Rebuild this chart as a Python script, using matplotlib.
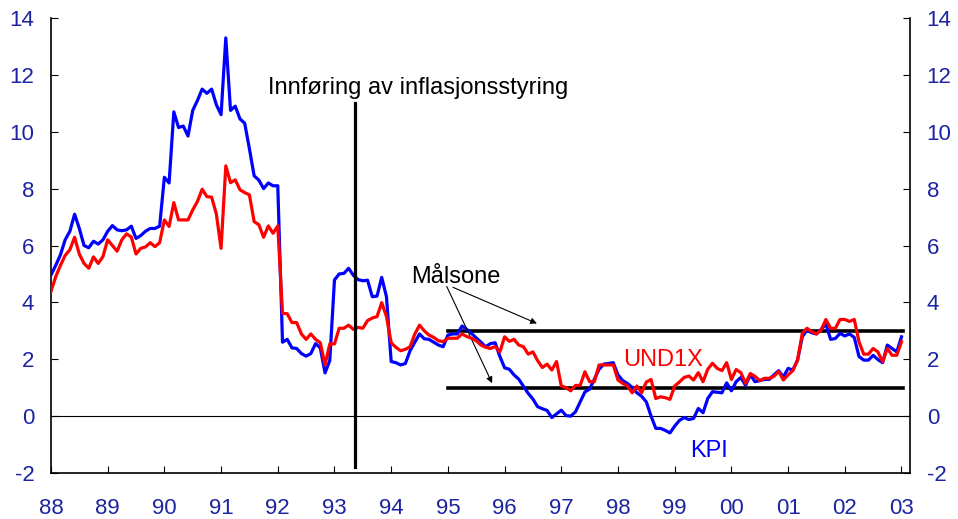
import numpy as np
import matplotlib
matplotlib.use("Agg")
import matplotlib.pyplot as plt

plt.rcParams['font.family'] = ['Liberation Sans', 'DejaVu Sans']
plt.rcParams['axes.unicode_minus'] = False

# monthly 12-month inflation, Jan 1988 - Jan 2003
kpi = [4.96, 5.3, 5.67, 6.2, 6.5, 7.1, 6.6, 6.0, 5.92, 6.15, 6.05, 6.2,
       6.5, 6.7, 6.55, 6.52, 6.55, 6.68, 6.25, 6.35, 6.5, 6.6, 6.6, 6.68,
       8.4, 8.2, 10.7, 10.15, 10.2, 9.85, 10.75, 11.1, 11.5, 11.35, 11.5, 10.95,
       10.6, 13.3, 10.75, 10.9, 10.45, 10.3, 9.4, 8.45, 8.3, 8.0, 8.2, 8.1,
       8.1, 2.6, 2.7, 2.4, 2.38, 2.2, 2.11, 2.2, 2.55, 2.4, 1.52, 1.95,
       4.79, 5.0, 5.02, 5.2, 4.95, 4.8, 4.76, 4.78, 4.2, 4.22, 4.88, 4.2,
       1.92, 1.88, 1.8, 1.85, 2.3, 2.6, 2.89, 2.72, 2.7, 2.6, 2.5, 2.44,
       2.85, 2.89, 2.89, 3.17, 3.05, 2.91, 2.75, 2.6, 2.44, 2.55, 2.58, 2.1,
       1.7, 1.65, 1.45, 1.3, 1.05, 0.8, 0.6, 0.33, 0.26, 0.2, -0.05, 0.08,
       0.21, 0.02, 0.0, 0.15, 0.5, 0.85, 0.95, 1.3, 1.65, 1.83, 1.85, 1.88,
       1.45, 1.25, 1.15, 1.01, 0.82, 0.7, 0.5, 0.0, -0.43, -0.43, -0.5, -0.59,
       -0.35, -0.15, -0.05, -0.12, -0.08, 0.27, 0.12, 0.62, 0.86, 0.84, 0.82, 1.17,
       0.89, 1.21, 1.36, 1.08, 1.45, 1.21, 1.25, 1.29, 1.29, 1.45, 1.6, 1.38,
       1.68, 1.62, 1.97, 2.79, 3.03, 2.93, 2.89, 3.05, 3.24, 2.7, 2.73, 2.91,
       2.82, 2.89, 2.77, 2.1, 1.97, 1.97, 2.14, 1.99, 1.88, 2.5, 2.38, 2.26,
       2.79]

und1x = [4.38, 4.9, 5.3, 5.65, 5.85, 6.29, 5.7, 5.37, 5.2, 5.6, 5.37, 5.61,
         6.2, 6.0, 5.8, 6.2, 6.41, 6.3, 5.7, 5.9, 5.95, 6.1, 5.96, 6.1,
         6.9, 6.67, 7.51, 6.9, 6.9, 6.9, 7.25, 7.55, 7.98, 7.72, 7.7, 7.11,
         5.9, 8.8, 8.21, 8.31, 7.96, 7.86, 7.78, 6.84, 6.73, 6.29, 6.69, 6.43,
         6.69, 3.62, 3.6, 3.29, 3.29, 2.89, 2.7, 2.89, 2.7, 2.58, 1.8, 2.54,
         2.54, 3.09, 3.09, 3.2, 3.05, 3.12, 3.09, 3.36, 3.45, 3.5, 3.99, 3.5,
         2.58, 2.42, 2.3, 2.35, 2.44, 2.89, 3.2, 3.0, 2.85, 2.77, 2.65, 2.62,
         2.74, 2.74, 2.74, 2.89, 2.8, 2.74, 2.65, 2.5, 2.42, 2.38, 2.45, 2.26,
         2.79, 2.63, 2.7, 2.5, 2.44, 2.18, 2.26, 1.95, 1.71, 1.83, 1.62, 1.92,
         1.06, 1.0, 0.89, 1.08, 1.08, 1.56, 1.21, 1.21, 1.8, 1.8, 1.8, 1.8,
         1.27, 1.15, 1.06, 0.82, 1.06, 0.82, 1.2, 1.29, 0.62, 0.68, 0.65, 0.59,
         1.06, 1.2, 1.36, 1.41, 1.27, 1.53, 1.21, 1.65, 1.86, 1.68, 1.6, 1.88,
         1.29, 1.64, 1.53, 1.15, 1.5, 1.4, 1.25, 1.33, 1.33, 1.4, 1.57, 1.27,
         1.45, 1.6, 1.97, 2.91, 3.09, 2.97, 2.89, 3.03, 3.4, 3.09, 3.09, 3.4,
         3.4, 3.33, 3.4, 2.62, 2.18, 2.18, 2.38, 2.26, 1.91, 2.38, 2.14, 2.14,
         2.62]

years = np.arange(1988, 2004)
year_labels = ['88', '89', '90', '91', '92', '93', '94', '95', '96', '97',
               '98', '99', '00', '01', '02', '03']
target_band = [1, 3]
intro_date = 1993.37

t = 1988 + np.arange(len(kpi)) / 12.0
tick_col = '#1c24a0'

fig = plt.figure(figsize=(9.58, 5.19), dpi=100)
ax = fig.add_axes([0.0532, 0.0886, 0.8967, 0.8767])

ax.axhline(0, color='black', lw=0.8, zorder=1)
ax.plot(t, kpi, color='#0000ff', lw=2.3, zorder=3)
ax.plot(t, und1x, color='#ff0000', lw=2.3, zorder=4)

for lvl in target_band:
    ax.plot([1995.0, 2003.03], [lvl, lvl], color='black', lw=2.6, zorder=2)
ax.plot([intro_date, intro_date], [-1.78, 11.0], color='black', lw=2.3, zorder=5)

ax.text(1991.83, 11.34, 'Innføring av inflasjonsstyring', fontsize=17, va='baseline')
ax.text(1994.36, 4.67, 'Målsone', fontsize=17, va='baseline')
ax.text(1998.09, 1.76, 'UND1X', fontsize=17, color='#ff0000', va='baseline')
ax.text(1999.28, -1.43, 'KPI', fontsize=17, color='#0000ff', va='baseline')

arrow = dict(arrowstyle='-|>', lw=0.8, color='black', mutation_scale=9,
             shrinkA=0, shrinkB=0)
ax.annotate('', xy=(1996.57, 3.26), xytext=(1995.09, 4.53), arrowprops=arrow)
ax.annotate('', xy=(1995.78, 1.16), xytext=(1994.98, 4.56), arrowprops=arrow)

ax.set_xlim(1988, 2003.15)
ax.set_ylim(-2, 14)
ax.set_xticks(years)
ax.set_xticklabels(year_labels)
ax.set_yticks(np.arange(-2, 15, 2))
ax.spines['top'].set_visible(False)
for s in ['left', 'right', 'bottom']:
    ax.spines[s].set_linewidth(1.2)
ax.tick_params(axis='y', direction='in', length=5, left=True, right=True,
               labelleft=True, labelright=True, labelsize=16,
               labelcolor=tick_col, pad=12)
ax.tick_params(axis='x', direction='in', length=5, labelsize=16,
               labelcolor=tick_col, pad=18)

fig.savefig('out.png', dpi=100)
